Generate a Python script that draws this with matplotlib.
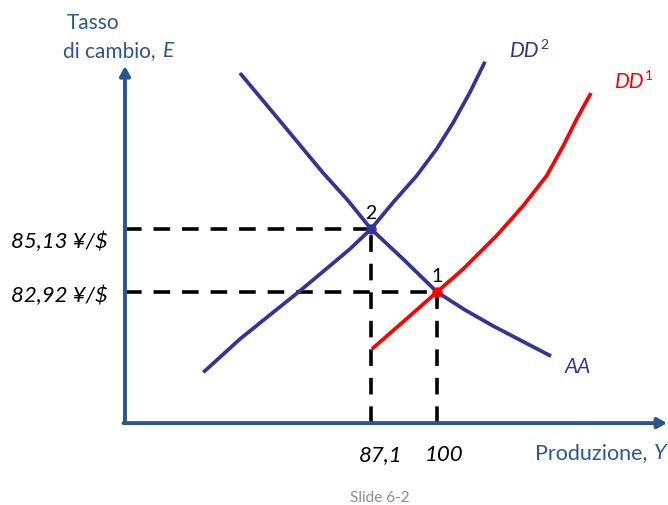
import matplotlib.pyplot as plt

plt.rcParams['font.family'] = ['Lato', 'DejaVu Sans']

# curves in (output Y, exchange rate E)
aa_y = [61.49, 69.31, 77.72, 82.5, 87.1, 93.35, 100.0, 105.47, 110.95, 116.6, 122.28]
aa_e = [90.60, 88.92, 87.10, 86.15, 85.13, 84.08, 82.92, 82.29, 81.73, 81.20, 80.67]

dd2_y = [54.32, 61.49, 68.00, 73.22, 79.08, 82.99, 87.1, 91.46, 96.03, 99.94, 103.19, 106.45, 109.38]
dd2_e = [80.10, 81.27, 82.21, 82.96, 83.84, 84.43, 85.13, 86.07, 87.00, 87.94, 88.87, 89.93, 91.00]

dd1_y = [87.29, 93.55, 100.0, 105.14, 111.67, 116.87, 121.44, 124.69, 127.31, 130.10]
dd1_e = [80.92, 81.90, 82.92, 83.73, 84.90, 85.95, 87.00, 88.05, 88.99, 89.90]

# equilibria: 1 before the shift, 2 after
eq_y = [100.0, 87.1]
eq_e = [82.92, 85.13]
eq_names = ['1', '2']
y_ticks = ['100', '87,1']
e_ticks = ['82,92 \u00a5/$', '85,13 \u00a5/$']

# axis origin and arrow tips
y0, e0 = 39.01, 78.32
y_end, e_end = 145.0, 90.85

axis_col = '#2A5592'
curve_col = '#333399'
text_col = '#2B579A'

fig = plt.figure(figsize=(6.68, 5.06), dpi=100)
ax = fig.add_axes([0, 0, 1, 1])
ax.set_xlim(14.58, 145.15)
ax.set_ylim(75.446, 93.20)
ax.axis('off')

# axes with arrow heads
arrow = dict(arrowstyle='-|>,head_length=0.55,head_width=0.3', lw=2.8,
             color=axis_col, shrinkA=0, shrinkB=0)
ax.annotate('', xy=(y0, e_end), xytext=(y0, e0), arrowprops=arrow)
ax.annotate('', xy=(y_end, e0), xytext=(y0 - 0.3, e0), arrowprops=arrow)

# dashed guides to the axes
dash = dict(color='black', lw=2.6, dashes=(4.6, 3.3))
for y, e in zip(eq_y, eq_e):
    ax.plot([y0, y], [e, e], **dash)
    ax.plot([y, y], [e0, e], **dash)

line = dict(lw=2.7, solid_capstyle='butt', solid_joinstyle='round')
ax.plot(aa_y, aa_e, color=curve_col, **line)
ax.plot(dd2_y, dd2_e, color=curve_col, **line)
ax.plot(dd1_y, dd1_e, color='red', **line)

ax.plot(eq_y[1], eq_e[1], 'o', color=curve_col, ms=6.5, zorder=5)
ax.plot(eq_y[0], eq_e[0], 'o', color='red', ms=6.5, zorder=5)

for y, e, name in zip(eq_y, eq_e, eq_names):
    ax.text(y, e + 0.4, name, ha='center', va='baseline', fontsize=14, color='black')

# values on the axes
for y, lab in zip(eq_y, y_ticks):
    ax.text(y + 1.37 if lab == '100' else y + 1.95, 77.025, lab,
            ha='center', va='baseline', fontsize=16, style='italic')
for e, lab, base in zip(eq_e, e_ticks, [82.60, 84.50]):
    ax.text(35.69, base, lab, ha='right', va='baseline', fontsize=16, style='italic')

# curve names
ax.text(125.0, 80.11, 'AA', fontsize=15, style='italic', color=curve_col, ha='left', va='baseline')
t = ax.text(114.27, 91.06, 'DD', fontsize=15, style='italic', color=curve_col, ha='left', va='bottom')
ax.annotate('2', xy=(1, 0), xycoords=t, xytext=(0.4, 7), textcoords='offset points',
            fontsize=10, color=curve_col, ha='left', va='bottom')
t = ax.text(134.79, 89.97, 'DD', fontsize=15, style='italic', color='red', ha='left', va='bottom')
ax.annotate('1', xy=(1, 0), xycoords=t, xytext=(0.4, 7), textcoords='offset points',
            fontsize=10, color='red', ha='left', va='bottom')

# axis titles
fig.text(93 / 668, 1 - 29 / 506, 'Tasso', ha='center', va='baseline', fontsize=15, color=text_col)
t = fig.text(63 / 668, 1 - 57 / 506, 'di cambio,', ha='left', va='baseline', fontsize=15, color=text_col)
ax.annotate('E', xy=(1, 0), xycoords=t, xytext=(5, 0), textcoords='offset points',
            fontsize=15, color=text_col, style='italic', ha='left', va='bottom')
t = fig.text(535 / 668, 1 - 459 / 506, 'Produzione,', ha='left', va='baseline', fontsize=15.5, color=text_col)
ax.annotate('Y', xy=(1, 0), xycoords=t, xytext=(5, 0), textcoords='offset points',
            fontsize=15.5, color=text_col, style='italic', ha='left', va='bottom',
            annotation_clip=False)

fig.text(380 / 668, 1 - 502 / 506, 'Slide 6-2', ha='center', va='baseline', fontsize=11, color='#8C8C8C')

fig.savefig('out.png', dpi=100)
